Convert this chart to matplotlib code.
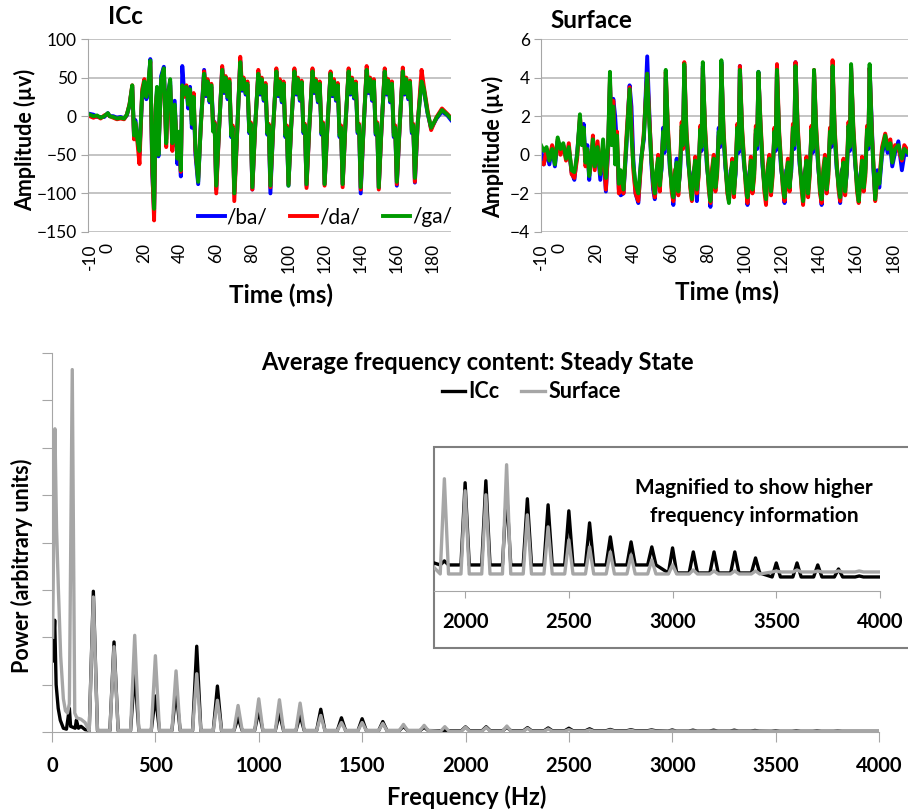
import matplotlib.pyplot as plt
from matplotlib.lines import Line2D
from matplotlib.patches import Rectangle

plt.rcParams['font.family'] = ['Lato', 'DejaVu Sans']

# ---------------- ICc time waveform (ms, microvolts) ----------------
icc_t = [-10, -8, -6, -4, -2, 0, 1, 3, 5, 7, 9,
         10.5, 12, 13.5, 14.5, 15.2, 16.2, 17.5, 19, 20.2, 21.3,
         22.3, 23.5, 24.6, 25.6, 26.5, 27.2, 28, 29.5, 31, 32.3,
         33.2, 34.5, 35.7, 37, 38.5, 39.5, 40.4, 41.2, 42.3, 43.5,
         44.5, 45.5, 46.5, 47.5, 48.5,
         50, 51.5, 53.3, 54.3, 55.2, 56.3, 57.3, 58.3, 59.1,
         60, 61.5, 63.3, 64.3, 65.2, 66.3, 67.3, 68.3, 69.1,
         70, 71.5, 73.3, 74.3, 75.2, 76.3, 77.3, 78.3, 79.1,
         80, 81.5, 83.3, 84.3, 85.2, 86.3, 87.3, 88.3, 89.1,
         90, 91.5, 93.3, 94.3, 95.2, 96.3, 97.3, 98.3, 99.1,
         100, 101.5, 103.3, 104.3, 105.2, 106.3, 107.3, 108.3, 109.1,
         110, 111.5, 113.3, 114.3, 115.2, 116.3, 117.3, 118.3, 119.1,
         120, 121.5, 123.3, 124.3, 125.2, 126.3, 127.3, 128.3, 129.1,
         130, 131.5, 133.3, 134.3, 135.2, 136.3, 137.3, 138.3, 139.1,
         140, 141.5, 143.3, 144.3, 145.2, 146.3, 147.3, 148.3, 149.1,
         150, 151.5, 153.3, 154.3, 155.2, 156.3, 157.3, 158.3, 159.1,
         160, 161.5, 163.3, 164.3, 165.2, 166.3, 167.3, 168.3, 169.1,
         170, 171.5, 173.7, 175, 177, 179, 182, 185, 188, 190]

icc_ga = [2, 0, 1, -2, 0, 4, 0, -1, -3, -2, -3,
          2, 15, 40, -25, -8, -28, -45, 30, 45, 25,
          40, 72, -60, -120, 10, 38, -50, 48, 62, -35,
          25, 48, -35, 15, -55, -20, -70, 40, 28, 38,
          15, 35, -10, 25, -40,
          -85, -10, 55, 28, 45, 20, 40, -20, -10,
          -90, -20, 60, 32, 50, 25, 45, -25, -15,
          -100, -25, 70, 35, 48, 30, 42, -20, -10,
          -92, -15, 55, 30, 48, 22, 40, -22, -12,
          -90, -15, 58, 28, 45, 20, 42, -25, -15,
          -90, -12, 58, 30, 48, 22, 44, -20, -12,
          -88, -15, 58, 32, 46, 20, 42, -22, -10,
          -88, -15, 55, 28, 45, 22, 40, -25, -15,
          -88, -12, 58, 30, 48, 25, 42, -20, -12,
          -92, -18, 60, 32, 48, 22, 45, -22, -10,
          -92, -15, 58, 30, 46, 20, 42, -25, -15,
          -85, -15, 58, 30, 48, 24, 44, -20, -12,
          -80, -10, 45, 35, 5, -15, -2, 8, 2, -3]

icc_da = [0, -2, 0, -3, 1, 3, 0, -2, -4, -3, -4,
          2, 16, 40, -30, -10, -30, -62, 35, 48, 28,
          35, 70, -70, -135, 15, 30, -45, 45, 60, -40,
          20, 40, -45, 10, -50, -25, -72, 35, 25, 40,
          20, 30, -5, 30, -45,
          -80, -12, 58, 32, 48, 24, 42, -18, -8,
          -100, -22, 65, 35, 52, 28, 48, -22, -12,
          -110, -28, 77, 38, 50, 32, 45, -18, -8,
          -95, -18, 60, 32, 50, 25, 43, -20, -10,
          -92, -18, 62, 30, 48, 24, 45, -22, -12,
          -88, -15, 62, 32, 50, 25, 46, -18, -10,
          -93, -18, 62, 35, 48, 23, 45, -20, -8,
          -90, -18, 58, 30, 48, 25, 43, -22, -12,
          -92, -15, 62, 32, 50, 28, 45, -18, -10,
          -95, -20, 65, 35, 50, 25, 48, -20, -8,
          -95, -18, 62, 32, 48, 23, 45, -22, -12,
          -88, -18, 63, 32, 50, 27, 46, -18, -10,
          -85, -12, 60, 38, 8, -18, -1, 10, 3, -2]

icc_ba = [3, 2, -1, -1, -1, 4, 0, 0, -2, -1, -3,
          1, 14, 38, -28, -5, -25, -50, 28, 44, 22,
          30, 74, -75, -125, 5, 35, -52, 52, 64, -30,
          30, 45, -40, 20, -62, -30, -78, 65, 30, 35,
          10, 38, -15, 20, -50,
          -88, -8, 60, 26, 44, 18, 38, -5, -8,
          -95, -20, 62, 30, 48, 22, 43, -27, -17,
          -100, -25, 72, 33, 46, 28, 40, -22, -12,
          -95, -15, 55, 28, 46, 20, 38, -24, -14,
          -100, -17, 58, 26, 43, 18, 40, -27, -17,
          -90, -14, 58, 28, 46, 20, 42, -22, -14,
          -90, -17, 58, 30, 44, 18, 40, -24, -12,
          -88, -17, 56, 26, 43, 20, 38, -27, -17,
          -88, -14, 57, 28, 46, 23, 40, -22, -14,
          -100, -20, 60, 30, 46, 20, 43, -24, -12,
          -93, -17, 58, 28, 44, 18, 40, -27, -17,
          -90, -17, 58, 28, 46, 22, 42, -22, -14,
          -86, -12, 50, 33, 4, -16, -3, 6, 1, -5]

# ---------------- Surface time waveform ----------------
srf_t = [-10, -8.5, -7, -5.5, -4, -2.5, -1, 0.5, 2, 3.5,
         5, 6.5, 8, 9.5, 11, 12, 13, 14, 15, 16,
         17, 18, 19, 20.5, 22, 23.5, 25, 26.2, 27.2, 28,
         29, 30, 31, 32, 33, 34.5, 36, 37.8, 38.8, 39.8,
         41, 42.5, 44, 45.5,
         47.3, 48.5, 49.5, 50.5, 51.4, 52.3, 53.2, 54.1, 55.0, 55.9, 56.6,
         57.3, 58.5, 59.5, 60.5, 61.4, 62.3, 63.2, 64.1, 65.0, 65.9, 66.6,
         67.3, 68.5, 69.5, 70.5, 71.4, 72.3, 73.2, 74.1, 75.0, 75.9, 76.6,
         77.3, 78.5, 79.5, 80.5, 81.4, 82.3, 83.2, 84.1, 85.0, 85.9, 86.6,
         87.3, 88.5, 89.5, 90.5, 91.4, 92.3, 93.2, 94.1, 95.0, 95.9, 96.6,
         97.3, 98.5, 99.5, 100.5, 101.4, 102.3, 103.2, 104.1, 105.0, 105.9, 106.6,
         107.3, 108.5, 109.5, 110.5, 111.4, 112.3, 113.2, 114.1, 115.0, 115.9, 116.6,
         117.3, 118.5, 119.5, 120.5, 121.4, 122.3, 123.2, 124.1, 125.0, 125.9, 126.6,
         127.3, 128.5, 129.5, 130.5, 131.4, 132.3, 133.2, 134.1, 135.0, 135.9, 136.6,
         137.3, 138.5, 139.5, 140.5, 141.4, 142.3, 143.2, 144.1, 145.0, 145.9, 146.6,
         147.3, 148.5, 149.5, 150.5, 151.4, 152.3, 153.2, 154.1, 155.0, 155.9, 156.6,
         157.3, 158.5, 159.5, 160.5, 161.4, 162.3, 163.2, 164.1, 165.0, 165.9, 166.6,
         167.3, 168.5, 169.3, 170.3, 171.5, 172.5, 174, 175.7, 177, 178.5, 179.5,
         181, 182.8, 184.7, 186, 188]

srf_ga = [0.5, 0.2, 0.4, -0.3, 0.3, -0.5, 0.9, 0.3, 0.6, -0.2,
          0.4, -0.8, -0.9, 0.0, 2.1, 0.5, 1.4, -0.4, 0.3, -1.1,
          -0.3, 0.8, -0.6, 0.4, -1.0, 0.8, -1.2, 0.5, 4.3, 0.5,
          2.5, -0.5, 1.0, -1.5, -0.8, -1.8, 0.5, 3.4, 1.0, -0.5,
          -1.5, -2.0, -0.3, 1.0,
          4.2, 1.5, -0.2, -1.4, -2.0, -0.8, -0.2, -1.6, -0.6, 1.2, 0.3,
          4.4, 1.2, -0.5, -1.7, -2.2, -1.0, -0.4, -1.9, -0.8, 1.5, 0.5,
          4.7, 1.0, -0.3, -1.5, -2.3, -1.1, -0.3, -1.8, -1.0, 1.3, 0.4,
          4.8, 1.3, -0.4, -1.6, -2.4, -0.9, -0.2, -1.7, -0.9, 1.2, 0.6,
          4.9, 1.1, -0.5, -1.8, -2.5, -1.0, -0.4, -2.0, -0.8, 1.4, 0.3,
          4.4, 1.2, -0.3, -1.5, -2.2, -1.2, -0.3, -1.8, -1.0, 1.3, 0.5,
          4.3, 1.4, -0.4, -1.7, -2.3, -0.8, -0.2, -1.9, -0.9, 1.2, 0.4,
          4.4, 1.0, -0.5, -1.6, -2.2, -1.0, -0.4, -1.7, -0.7, 1.4, 0.5,
          4.6, 1.3, -0.3, -1.5, -2.4, -1.1, -0.3, -2.0, -0.9, 1.3, 0.3,
          4.4, 1.2, -0.4, -1.8, -2.3, -0.9, -0.2, -1.8, -1.0, 1.2, 0.6,
          4.6, 1.1, -0.5, -1.6, -2.2, -1.0, -0.4, -1.9, -0.8, 1.5, 0.4,
          4.7, 1.3, -0.3, -1.7, -2.4, -1.2, -0.3, -1.7, -0.9, 1.3, 0.5,
          4.7, 1.0, -0.5, -2.3, -1.0, -1.5, 0.2, 1.0, 0.3, 0.6, -0.4,
          0.3, 0.5, -0.2, 0.3, 0.1]

srf_da = [-0.4, -0.5, 0.3, -0.2, 0.5, -0.3, 0.8, 0.0, 0.5, -0.3,
          0.6, -1.0, -1.2, -0.2, 2.0, 0.8, 1.2, -0.6, 0.2, -1.0,
          -0.4, 1.0, -0.8, 0.7, -0.9, 0.5, -1.8, 0.3, 4.0, 1.0,
          2.8, 0.0, 1.2, -2.0, -1.0, -2.0, 0.8, 3.5, 1.5, -0.8,
          -2.0, -2.4, -0.5, 1.2,
          4.2, 1.8, 0.0, -1.6, -2.2, -1.0, 0.0, -1.9, -0.4, 1.0, 0.5,
          4.3, 1.4, -0.3, -1.9, -2.4, -0.8, -0.6, -2.1, -0.6, 1.7, 0.3,
          4.8, 1.2, -0.1, -1.7, -2.4, -1.3, -0.1, -2.0, -1.2, 1.5, 0.6,
          4.5, 1.5, -0.2, -1.8, -2.5, -0.7, 0.0, -1.9, -1.1, 1.0, 0.8,
          4.7, 1.3, -0.3, -2.0, -2.4, -1.2, -0.2, -2.2, -0.6, 1.6, 0.5,
          4.6, 1.4, -0.1, -1.7, -2.5, -1.4, -0.1, -2.0, -1.2, 1.5, 0.7,
          4.2, 1.6, -0.2, -1.9, -2.6, -0.6, 0.0, -2.1, -1.1, 1.4, 0.6,
          4.7, 1.2, -0.3, -1.8, -2.4, -1.2, -0.2, -1.9, -0.5, 1.6, 0.7,
          4.8, 1.5, -0.1, -1.7, -2.6, -1.3, -0.1, -2.2, -1.1, 1.5, 0.5,
          4.4, 1.4, -0.2, -2.0, -2.5, -0.7, 0.0, -2.0, -1.2, 1.4, 0.8,
          4.9, 1.3, -0.3, -1.8, -2.4, -1.2, -0.2, -2.1, -0.6, 1.7, 0.6,
          4.6, 1.5, -0.1, -1.9, -2.5, -1.4, -0.1, -1.9, -1.1, 1.5, 0.7,
          4.5, 1.2, -0.3, -2.4, -1.2, -1.3, 0.4, 1.1, 0.5, 0.8, -0.2,
          0.5, 0.3, -0.3, 0.5, 0.2]

srf_ba = [0.3, -0.5, 0.2, -0.5, 0.4, -0.6, 0.7, 0.4, 0.5, -0.1,
          0.3, -0.9, -1.3, 0.1, 1.8, 0.6, 1.6, -0.3, 0.5, -1.3,
          -0.2, 0.6, -0.5, 0.3, -1.3, 0.3, -1.9, 0.2, 3.8, 1.5,
          2.9, 2.0, 0.5, -1.8, -2.1, -2.0, 0.3, 3.6, 2.5, -0.2,
          -2.0, -2.5, -0.2, 0.8,
          5.1, 2.0, -0.4, -1.8, -2.3, -1.2, -0.4, -1.4, -0.8, 1.4, 0.1,
          4.0, 1.0, -0.7, -1.5, -2.6, -1.2, -0.2, -1.7, -1.0, 1.3, 0.7,
          4.6, 0.8, -0.5, -1.3, -2.2, -0.9, -0.5, -2.4, -0.8, 1.1, 0.2,
          4.6, 1.1, -0.6, -1.4, -2.7, -1.1, -0.4, -1.5, -0.7, 1.4, 0.4,
          4.8, 0.9, -0.7, -1.6, -2.3, -0.8, -0.6, -1.8, -1.0, 1.2, 0.1,
          4.6, 1.0, -0.5, -1.3, -2.6, -1.0, -0.5, -1.6, -0.8, 1.1, 0.3,
          4.3, 1.2, -0.6, -1.5, -2.1, -1.0, -0.4, -1.7, -0.7, 1.0, 0.2,
          4.4, 0.8, -0.7, -1.4, -2.5, -0.8, -0.6, -1.5, -0.9, 1.2, 0.3,
          4.8, 1.1, -0.5, -1.3, -2.2, -0.9, -0.5, -1.8, -0.7, 1.1, 0.1,
          4.3, 1.0, -0.6, -1.6, -2.6, -1.1, -0.4, -1.6, -0.8, 1.0, 0.4,
          4.5, 0.9, -0.7, -1.4, -2.5, -0.8, -0.6, -1.7, -1.0, 1.3, 0.2,
          4.5, 1.1, -0.5, -1.5, -2.2, -1.0, -0.5, -1.5, -0.7, 1.1, 0.3,
          4.5, 1.5, -0.7, -2.2, -0.8, -1.7, 0.0, 0.8, 0.1, 0.4, -0.6,
          0.1, 0.7, -0.8, 0.0, 0.0]

time_ticks = [-10, 0, 20, 40, 60, 80, 100, 120, 140, 160, 180]

# ---------------- average spectra (arbitrary units) ----------------
lo_f_icc = [4, 13, 20, 30, 40, 55, 70, 84, 90, 112, 118, 128, 140, 160, 178]
lo_p_icc = [1.5, 2.36, 1.0, 0.5, 0.25, 0.08, 0.06, 0.5, 0.12, 0.08, 0.25, 0.08, 0.12, 0.05, 0.04]
lo_f_srf = [3, 14, 22, 31, 42, 55, 65, 75, 84, 98, 110, 120, 140, 160, 178]
lo_p_srf = [2.0, 6.4, 4.3, 3.0, 1.6, 0.7, 0.45, 0.4, 0.6, 7.65, 0.4, 0.3, 0.27, 0.2, 0.04]

harm_f = list(range(200, 4000, 100))
harm_icc = [2.97, 1.90, 1.27, 0.76, 0.88, 1.81, 0.97, 0.30, 0.45, 0.40, 0.35, 0.48,
            0.30, 0.28, 0.22, 0.12, 0.10,
            0.030, 0.108, 0.110, 0.100, 0.092, 0.086, 0.080, 0.068, 0.054, 0.049,
            0.044, 0.043, 0.039, 0.039, 0.039, 0.033, 0.028, 0.028, 0.026, 0.022, 0.015]
harm_srf = [2.85, 1.80, 2.04, 1.61, 1.29, 1.23, 0.67, 0.56, 0.70, 0.68, 0.61, 0.35,
            0.20, 0.20, 0.18, 0.16, 0.14,
            0.112, 0.100, 0.096, 0.126, 0.076, 0.064, 0.051, 0.044, 0.039, 0.036,
            0.031, 0.026, 0.021, 0.020, 0.020, 0.020, 0.020, 0.021, 0.020, 0.020, 0.020]
base_icc = [0.03] * 17 + [0.026] * 11 + [0.018] * 5 + [0.014] * 5
base_srf = [0.03] * 17 + [0.017] * 16 + [0.019] * 5


def spectrum(lo_f, lo_p, peaks, bases):
    f = list(lo_f)
    p = list(lo_p)
    for h, pk, b in zip(harm_f, peaks, bases):
        f += [h - 20, h, h + 20]
        p += [b, pk, b]
    f.append(4000)
    p.append(bases[-1])
    return f, p


spec_icc = spectrum(lo_f_icc, lo_p_icc, harm_icc, base_icc)
spec_srf = spectrum(lo_f_srf, lo_p_srf, harm_srf, base_srf)

# ---------------- figure ----------------
W, H = 908, 811
fig = plt.figure(figsize=(W / 100, H / 100), dpi=100)


def rect(l, t, r, b):
    return [l / W, 1 - b / H, (r - l) / W, (b - t) / H]


def fx(x):
    return x / W


def fy(y):
    return 1 - y / H


BLUE, RED, GREEN = '#0000ff', '#ff0000', '#009a00'
AXGRAY = '#a6a6a6'


def style_top(ax, xlim, ylim, yticks):
    ax.set_xlim(xlim)
    ax.set_ylim(ylim)
    ax.set_yticks(yticks)
    ax.set_xticks(time_ticks)
    ax.set_xticklabels([str(t) for t in time_ticks], rotation=90)
    ax.grid(axis='y', color='#bfbfbf', lw=1.3)
    ax.set_axisbelow(True)
    for s in ['top', 'right', 'bottom']:
        ax.spines[s].set_visible(False)
    ax.spines['left'].set_color(AXGRAY)
    ax.tick_params(axis='y', length=5, color=AXGRAY, labelsize=12.5, pad=3)
    ax.tick_params(axis='x', length=0, labelsize=12.5, pad=8)


ax1 = fig.add_axes(rect(88, 39, 451, 232))
ax1.plot(icc_t, icc_ba, color=BLUE, lw=2.8, label='/ba/')
ax1.plot(icc_t, icc_da, color=RED, lw=2.8, label='/da/')
ax1.plot(icc_t, icc_ga, color=GREEN, lw=2.8, label='/ga/')
style_top(ax1, (-11, 190), (-150, 100), [-150, -100, -50, 0, 50, 100])
ax1.legend(ncol=3, loc='center', bbox_to_anchor=(fx(325), fy(217)),
           bbox_transform=fig.transFigure, frameon=False, fontsize=15,
           handlelength=1.3, handletextpad=0.1, columnspacing=1.1)

ax2 = fig.add_axes(rect(541, 39, 908, 232))
ax2.plot(srf_t, srf_ba, color=BLUE, lw=2.8)
ax2.plot(srf_t, srf_da, color=RED, lw=2.8)
ax2.plot(srf_t, srf_ga, color=GREEN, lw=2.8)
style_top(ax2, (-10, 188), (-4, 6), [-4, -2, 0, 2, 4, 6])

fig.text(fx(108), fy(17), 'ICc', fontsize=17.5, weight='bold', va='center')
fig.text(fx(550), fy(20), 'Surface', fontsize=17.5, weight='bold', va='center')
fig.text(fx(25), fy(140), 'Amplitude (µv)', fontsize=15.5, weight='bold',
         rotation=90, ha='center', va='center')
fig.text(fx(493), fy(147), 'Amplitude (µv)', fontsize=15.5, weight='bold',
         rotation=90, ha='center', va='center')
fig.text(fx(281), fy(295), 'Time (ms)', fontsize=17.5, weight='bold', ha='center', va='center')
fig.text(fx(727), fy(292), 'Time (ms)', fontsize=17.5, weight='bold', ha='center', va='center')

# main spectrum
ax3 = fig.add_axes(rect(52, 353, 879, 732))
ax3.plot(*spec_icc, color='black', lw=2.4, solid_joinstyle='round')
ax3.plot(*spec_srf, color='#a6a6a6', lw=2.4, solid_joinstyle='round')
ax3.set_xlim(0, 4000)
ax3.set_ylim(0, 8)
ax3.set_yticks(range(0, 9))
ax3.set_yticklabels([])
ax3.set_xticks(range(0, 4001, 500))
for s in ['top', 'right']:
    ax3.spines[s].set_visible(False)
for s in ['left', 'bottom']:
    ax3.spines[s].set_color(AXGRAY)
ax3.tick_params(axis='y', length=7, color=AXGRAY)
ax3.tick_params(axis='x', length=7, color=AXGRAY, labelsize=14.5, pad=10)
for lab in ax3.get_xticklabels():
    lab.set_fontweight('bold')

handles = [Line2D([], [], color='black', lw=2.4), Line2D([], [], color='#a6a6a6', lw=2.4)]
ax3.legend(handles, ['ICc', 'Surface'], ncol=2, loc='center',
           bbox_to_anchor=(fx(531), fy(392)), bbox_transform=fig.transFigure,
           frameon=False, prop={'weight': 'bold', 'size': 15.5},
           handlelength=1.1, handletextpad=0.15, columnspacing=1.0)
fig.text(fx(477), fy(362), 'Average frequency content: Steady State',
         fontsize=17, weight='bold', ha='center', va='center')
fig.text(fx(467), fy(797), 'Frequency (Hz)', fontsize=17, weight='bold',
         ha='center', va='center')
fig.text(fx(22), fy(566), 'Power (arbitrary units)', fontsize=15.5, weight='bold',
         rotation=90, ha='center', va='center')

# inset (magnified high frequencies)
fig.patches.append(Rectangle((fx(434), fy(648)), (915 - 434) / W, (648 - 447) / H,
                             transform=fig.transFigure, facecolor='white',
                             edgecolor='#7f7f7f', lw=1.5, zorder=2))
ax4 = fig.add_axes(rect(434, 447, 880, 591), zorder=3)
ax4.set_facecolor('none')
ax4.plot(*spec_icc, color='black', lw=2.4, solid_joinstyle='round')
ax4.plot(*spec_srf, color='#a6a6a6', lw=2.4, solid_joinstyle='round')
ax4.set_xlim(1850, 4000)
ax4.set_ylim(0, 0.1437)
ax4.set_yticks([])
ax4.set_xticks(range(2000, 4001, 500))
for s in ['top', 'right', 'left']:
    ax4.spines[s].set_visible(False)
ax4.spines['bottom'].set_color(AXGRAY)
ax4.tick_params(axis='x', length=5, color=AXGRAY, labelsize=14.5, pad=10)
for lab in ax4.get_xticklabels():
    lab.set_fontweight('bold')
fig.text(fx(754), fy(502), 'Magnified to show higher\nfrequency information',
         fontsize=15, weight='bold', ha='center', va='center', linespacing=1.45,
         zorder=5)

fig.savefig('out.png', dpi=100)
plt.close(fig)
